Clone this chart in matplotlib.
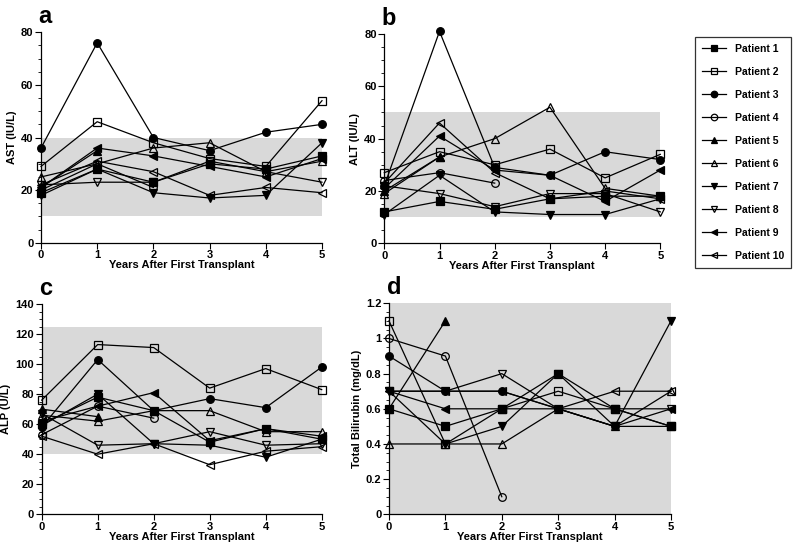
import numpy as np
import matplotlib
matplotlib.use("Agg")
import matplotlib.pyplot as plt
from matplotlib.ticker import MultipleLocator, FuncFormatter

plt.rcParams['font.family'] = ['Liberation Sans', 'DejaVu Sans']
plt.rcParams['font.weight'] = 'bold'

years = [0, 1, 2, 3, 4, 5]
patients = ["Patient 1", "Patient 2", "Patient 3", "Patient 4", "Patient 5",
            "Patient 6", "Patient 7", "Patient 8", "Patient 9", "Patient 10"]
nan = np.nan

# Panel a: AST (IU/L)
ast = [
    [19, 28, 23, 30, 28, 33],
    [29, 46, 38, 32, 29, 54],
    [36, 76, 40, 35, 42, 45],
    [20, 30, 21, nan, nan, nan],
    [21, 35, nan, nan, nan, nan],
    [25, 30, 36, 38, 27, 31],
    [18, 28, 19, 17, 18, 38],
    [22, 23, 23, 31, 27, 23],
    [21, 36, 33, 29, 25, 32],
    [22, 31, 27, 18, 21, 19],
]
# Panel b: ALT (IU/L)
alt = [
    [12, 16, 13, 17, 18, 18],
    [27, 35, 30, 36, 25, 34],
    [22, 81, 29, 26, 35, 32],
    [24, 27, 23, nan, nan, nan],
    [20, 33, nan, nan, nan, nan],
    [19, 33, 40, 52, 21, 18],
    [11, 26, 12, 11, 11, 17],
    [22, 19, 14, 19, 19, 12],
    [21, 41, 28, 26, 16, 28],
    [23, 46, 27, 17, 20, 17],
]
# Panel c: ALP (U/L)
alp = [
    [60, 78, 69, 48, 57, 50],
    [76, 113, 111, 84, 97, 83],
    [58, 103, 69, 77, 71, 98],
    [53, 72, 64, nan, nan, nan],
    [70, 65, nan, nan, nan, nan],
    [66, 62, 69, 69, 55, 55],
    [59, 80, 47, 46, 38, 50],
    [67, 46, 47, 55, 46, 47],
    [62, 72, 81, 49, 57, 52],
    [52, 40, 47, 33, 42, 45],
]
# Panel d: Total bilirubin (mg/dL)
bili = [
    [0.6, 0.5, 0.6, 0.8, 0.6, 0.5],
    [1.1, 0.4, 0.6, 0.7, 0.6, 0.5],
    [0.9, 0.7, 0.7, 0.6, 0.5, 0.5],
    [1.0, 0.9, 0.1, nan, nan, nan],
    [0.6, 1.1, nan, nan, nan, nan],
    [0.4, 0.4, 0.4, 0.6, 0.5, 0.7],
    [0.7, 0.4, 0.5, 0.8, 0.5, 1.1],
    [0.7, 0.7, 0.8, 0.6, 0.5, 0.6],
    [0.7, 0.6, 0.6, 0.6, 0.6, 0.6],
    [0.7, 0.7, 0.7, 0.6, 0.7, 0.7],
]

markers = ['s', 's', 'o', 'o', '^', '^', 'v', 'v', '<', '<']
filled = [True, False, True, False, True, False, True, False, True, False]

panels = [
    dict(data=ast, label='a', ylabel='AST (IU/L)', ylim=(0, 80), major=20, minor=5,
         shade=(10, 40), rect=[41/800, 1-242.7/551, 281/800, 210.4/551]),
    dict(data=alt, label='b', ylabel='ALT (IU/L)', ylim=(0, 80), major=20, minor=5,
         shade=(10, 50), rect=[384.3/800, 1-243.3/551, 276/800, 209.3/551]),
    dict(data=alp, label='c', ylabel='ALP (U/L)', ylim=(0, 140), major=20, minor=5,
         shade=(40, 125), rect=[41.7/800, 1-514.3/551, 280/800, 210.3/551]),
    dict(data=bili, label='d', ylabel='Total Bilirubin (mg/dL)', ylim=(0, 1.2), major=0.2, minor=0.05,
         shade=(0, 1.2), rect=[389/800, 1-514.3/551, 282/800, 211/551]),
]

fig = plt.figure(figsize=(8, 5.51), dpi=100)
handles = None
for p in panels:
    ax = fig.add_axes(p['rect'])
    ax.axhspan(p['shade'][0], p['shade'][1], xmin=0, xmax=1, color='#d9d9d9', lw=0, zorder=0)
    hs = []
    for i, series in enumerate(p['data']):
        y = np.array(series, dtype=float)
        m = ~np.isnan(y)
        x = np.array(years)[m]
        h, = ax.plot(x, y[m], color='black', lw=0.9, marker=markers[i], markersize=5.5,
                     markerfacecolor='black' if filled[i] else 'none',
                     markeredgecolor='black', markeredgewidth=0.9, clip_on=False, zorder=3,
                     label=patients[i])
        hs.append(h)
    if handles is None:
        handles = hs
    ax.set_xlim(0, 5)
    ax.set_ylim(*p['ylim'])
    ax.set_xticks(years)
    ax.yaxis.set_major_locator(MultipleLocator(p['major']))
    ax.yaxis.set_minor_locator(MultipleLocator(p['minor']))
    ax.yaxis.set_major_formatter(FuncFormatter(lambda v, pos: '%g' % round(v, 3)))
    for s in ['top', 'right']:
        ax.spines[s].set_visible(False)
    for s in ['left', 'bottom']:
        ax.spines[s].set_linewidth(0.9)
    ax.tick_params(axis='both', which='major', direction='out', length=4, width=0.8,
                   labelsize=8, pad=1.5)
    ax.tick_params(axis='y', which='minor', direction='out', length=2, width=0.6)
    for t in ax.get_xticklabels() + ax.get_yticklabels():
        t.set_fontweight('bold')
    ax.set_xlabel('Years After First Transplant', fontsize=8, fontweight='bold', labelpad=0)
    ax.set_ylabel(p['ylabel'], fontsize=8, fontweight='bold', labelpad=3)
    ax.set_facecolor('none')
    fig.text(p['rect'][0] - 0.003, p['rect'][1] + p['rect'][3] + 0.007, p['label'],
             fontsize=17, fontweight='bold', ha='left', va='bottom')

leg = fig.legend(handles=handles, loc='upper left', bbox_to_anchor=(695/800, 1-37/551),
                 borderaxespad=0, frameon=True, fancybox=False, markerscale=0.85,
                 labelspacing=1.25, handlelength=2.3, handletextpad=0.9,
                 borderpad=0.65, prop={'weight': 'bold', 'size': 7.5})
leg.get_frame().set_edgecolor('black')
leg.get_frame().set_linewidth(0.9)

fig.savefig('out.png', dpi=100)
